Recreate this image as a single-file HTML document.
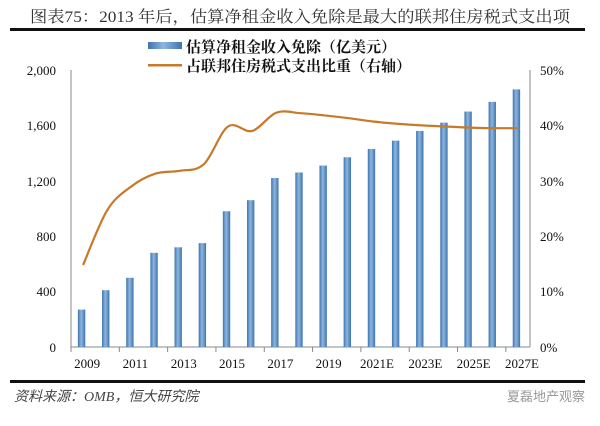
<!DOCTYPE html>
<html><head><meta charset="utf-8"><style>
body{margin:0;background:#fff;width:600px;height:421px;overflow:hidden}
</style></head><body>
<svg width="600" height="421" xmlns="http://www.w3.org/2000/svg" font-family="'Liberation Serif','Noto Serif CJK SC',serif">
<defs>
<linearGradient id="b" x1="0" x2="1" y1="0" y2="0">
<stop offset="0" stop-color="#3f74ad"/><stop offset="0.45" stop-color="#8db6e0"/><stop offset="1" stop-color="#3f74ad"/>
</linearGradient>
</defs>
<text x="300" y="22" font-size="16" fill="#333" text-anchor="middle" textLength="540" lengthAdjust="spacingAndGlyphs">图表75：2013 年后，估算净租金收入免除是最大的联邦住房税式支出项</text>
<rect x="10" y="28" width="575" height="3" fill="#111"/>
<rect x="148" y="42" width="34" height="7" fill="url(#b)"/>
<text x="186" y="52" font-size="15" font-weight="bold" fill="#111" font-family="'Noto Serif CJK SC',serif">估算净租金收入免除（亿美元）</text>
<rect x="148" y="64" width="34" height="2.5" fill="#c8792a"/>
<text x="186" y="71" font-size="15" font-weight="bold" fill="#111" font-family="'Noto Serif CJK SC',serif">占联邦住房税式支出比重（右轴）</text>
<g stroke="#888" stroke-width="1" fill="none">
<line x1="71" y1="70" x2="71" y2="347"/><line x1="530" y1="70" x2="530" y2="347"/>
<line x1="71" y1="347" x2="530" y2="347"/>
</g>
<g font-size="13" fill="#111" text-anchor="end">
<text x="56" y="75">2,000</text><text x="56" y="130">1,600</text><text x="56" y="186">1,200</text><text x="56" y="241">800</text><text x="56" y="296">400</text><text x="56" y="352">0</text>
</g>
<g font-size="13" fill="#111">
<text x="540" y="75">50%</text><text x="540" y="130">40%</text><text x="540" y="186">30%</text><text x="540" y="241">20%</text><text x="540" y="296">10%</text><text x="540" y="352">0%</text>
</g>
<g stroke="#888" id="ticks"></g>
<g id="bars"></g>
<g id="xl" font-size="13" fill="#111" text-anchor="middle"></g>
<path id="ln" fill="none" stroke="#c8792a" stroke-width="2.2"/>
<rect x="10" y="380" width="575" height="3" fill="#111"/>
<text x="14" y="401" font-size="14" font-style="italic" fill="#444" font-family="'Liberation Serif','Noto Sans CJK SC',serif">资料来源：OMB，恒大研究院</text>
<text x="585" y="401" font-size="13" fill="#999" text-anchor="end" font-family="'Noto Sans CJK SC',sans-serif">夏磊地产观察</text>
</svg>
<script>
var ns="http://www.w3.org/2000/svg";
var vals=[270,410,500,680,720,750,980,1060,1220,1260,1310,1370,1430,1490,1560,1620,1700,1770,1860];
var pct=[14.8,24.7,29,31.3,31.8,33,39.8,39,42.3,42.2,41.8,41.3,40.7,40.3,40,39.8,39.6,39.5,39.5];
var L=71,W=459/19,y0=347,s=277/2000,ps=277/50;
var bars=document.getElementById('bars'),xl=document.getElementById('xl'),tk=document.getElementById('ticks');
var pts=[];
vals.forEach(function(v,i){
 var cx=L+W*i+W/2-1.5,h=v*s;
 var r=document.createElementNS(ns,'rect');
 r.setAttribute('x',cx-3.7);r.setAttribute('y',y0-h);r.setAttribute('width',7.4);r.setAttribute('height',h);r.setAttribute('fill','url(#b)');
 bars.appendChild(r);
 pts.push([L+W*i+W/2,y0-pct[i]*ps]);
 if(i%2==0){
  var t=document.createElementNS(ns,'text');
  t.setAttribute('x',L+W*i+W/2+4);t.setAttribute('y',368);
  var yr=2009+i;t.textContent=yr+(yr>=2021?'E':'');xl.appendChild(t);
 }
});
for(var i=0;i<=19;i+=2){var l=document.createElementNS(ns,'line');var x=L+W*i;
 l.setAttribute('x1',x);l.setAttribute('x2',x);l.setAttribute('y1',347);l.setAttribute('y2',352);tk.appendChild(l);}
var d='M'+pts[0][0]+' '+pts[0][1];
for(var i=0;i<pts.length-1;i++){
 var p0=pts[Math.max(i-1,0)],p1=pts[i],p2=pts[i+1],p3=pts[Math.min(i+2,pts.length-1)];
 d+=' C'+(p1[0]+(p2[0]-p0[0])/6)+' '+(p1[1]+(p2[1]-p0[1])/6)+' '+(p2[0]-(p3[0]-p1[0])/6)+' '+(p2[1]-(p3[1]-p1[1])/6)+' '+p2[0]+' '+p2[1];
}
document.getElementById('ln').setAttribute('d',d);
</script>
</body></html>
